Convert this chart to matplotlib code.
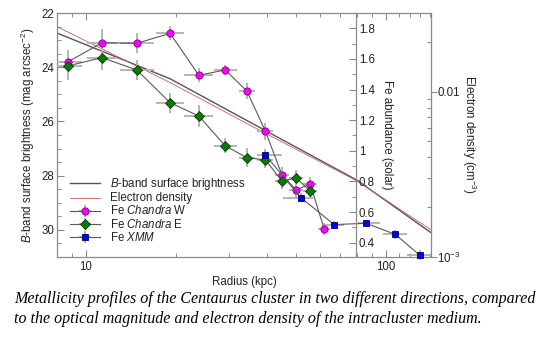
import matplotlib
matplotlib.use("Agg")
import matplotlib.pyplot as plt
from matplotlib.ticker import FixedLocator, MultipleLocator, FuncFormatter, NullFormatter, LogLocator

plt.rcParams["font.family"] = ["Liberation Sans", "DejaVu Sans"]
plt.rcParams["mathtext.fontset"] = "custom"
plt.rcParams["mathtext.rm"] = "Liberation Sans"
plt.rcParams["mathtext.it"] = "Liberation Sans:italic"

# B-band surface brightness and electron density profiles
prof_r = [8.0, 19.05, 38.0, 79.9, 141.3]
sb_mag = [22.73, 24.42, 26.23, 28.17, 30.12]
ne_cm3 = [0.0248, 0.01137, 0.00582, 0.00288, 0.00145]

# Fe Chandra W
w_r = [8.69, 11.3, 14.76, 19.05, 23.75, 29.06, 34.33, 39.6, 44.9, 50.1, 55.8, 62.1]
w_rlo = [7.80, 10.07, 12.95, 17.11, 21.25, 26.60, 32.29, 37.24, 42.55, 47.48, 52.88, 59.31]
w_rhi = [9.68, 12.68, 16.82, 21.21, 26.55, 31.74, 36.50, 42.11, 47.38, 52.87, 58.88, 65.02]
w_fe = [1.58, 1.706, 1.702, 1.767, 1.493, 1.528, 1.390, 1.127, 0.844, 0.744, 0.783, 0.491]
w_err = [0.08, 0.09, 0.065, 0.045, 0.045, 0.035, 0.05, 0.055, 0.05, 0.045, 0.045, 0.04]

# Fe Chandra E (same radial bins as W)
e_r = w_r[:11]
e_rlo = w_rlo[:11]
e_rhi = w_rhi[:11]
e_fe = [1.554, 1.608, 1.528, 1.314, 1.227, 1.033, 0.955, 0.940, 0.803, 0.822, 0.737]
e_err = [0.09, 0.08, 0.065, 0.065, 0.07, 0.05, 0.06, 0.05, 0.05, 0.05, 0.05]

# Fe XMM
x_r = [39.6, 51.9, 67.1, 85.8, 107.2, 129.1]
x_rlo = [37.07, 45.4, 62.1, 80.7, 97.7, 117.5]
x_rhi = [44.9, 57.1, 72.4, 95.5, 117.5, 141.3]
x_fe = [0.972, 0.694, 0.518, 0.526, 0.454, 0.319]
x_err = [0.04, 0.03, 0.025, 0.025, 0.03, 0.03]

TXT = "#222222"
SPINE = "#8a8a8a"
FS = 8.3

fig = plt.figure(figsize=(5.46, 3.53), dpi=100)
ax = fig.add_axes([57 / 546, 96.3 / 353, 374 / 546, 243.4 / 353])
ax_ne = ax.twinx()
ax_fe = ax.twinx()

for a in (ax, ax_ne, ax_fe):
	for s in a.spines.values():
		s.set_color(SPINE)
		s.set_linewidth(0.9)
for s in ("left", "top", "bottom"):
	ax_ne.spines[s].set_visible(False)
	ax_fe.spines[s].set_visible(False)
ax.spines["right"].set_visible(False)
ax_fe.spines["right"].set_position(("axes", 0.8))

# main axis: radius and surface brightness
ax.set_xscale("log")
ax.set_xlim(8, 141)
ax.set_ylim(31, 22)
ax.plot(prof_r, sb_mag, color="#555555", lw=1.0, label=r"$\it{B}$-band surface brightness")
ax.xaxis.set_major_locator(FixedLocator([10, 100]))
ax.xaxis.set_major_formatter(FuncFormatter(lambda v, p: "%d" % v))
ax.xaxis.set_minor_locator(FixedLocator([8, 9] + list(range(20, 100, 10)) + [110, 120, 130, 140]))
ax.xaxis.set_minor_formatter(NullFormatter())
ax.yaxis.set_major_locator(MultipleLocator(2))
ax.yaxis.set_minor_locator(MultipleLocator(0.5))
ax.tick_params(which="both", direction="in", top=True, right=False, colors=SPINE, labelcolor=TXT, labelsize=FS)
ax.tick_params(which="major", length=5, width=0.8)
ax.tick_params(which="minor", length=3, width=0.7)
ax.tick_params(axis="x", pad=3)
ax.tick_params(axis="y", pad=2)
ax.set_xlabel("Radius (kpc)", fontsize=FS, color=TXT, labelpad=2)
ax.set_ylabel(r"$\it{B}$-band surface brightness (mag arcsec$^{-2}$)", fontsize=FS, color=TXT)
ax.yaxis.set_label_coords(-0.053, 0.5)

# electron density axis
ax_ne.set_yscale("log")
ax_ne.set_ylim(1e-3, 0.0299)
ln_ne, = ax_ne.plot(prof_r, ne_cm3, color="#cc5a5a", lw=0.6, label="Electron density")
ax_ne.yaxis.set_major_locator(FixedLocator([1e-3, 1e-2]))
ax_ne.yaxis.set_major_formatter(FuncFormatter(lambda v, p: r"10$^{-3}$" if v < 5e-3 else "0.01"))
ax_ne.yaxis.set_minor_locator(LogLocator(base=10, subs=range(2, 10)))
ax_ne.yaxis.set_minor_formatter(NullFormatter())
ax_ne.tick_params(which="major", direction="out", length=4, width=0.8, colors=SPINE, labelcolor=TXT, labelsize=FS, pad=0.5)
ax_ne.tick_params(which="minor", direction="in", length=3, width=0.7, colors=SPINE)
ax_ne.set_ylabel(r"Electron density (cm$^{-3}$)", fontsize=FS, color=TXT, rotation=270)
ax_ne.yaxis.set_label_coords(1.125, 0.5)

# Fe abundance axis
ax_fe.set_ylim(0.308, 1.898)
ax_fe.yaxis.set_major_locator(FixedLocator([0.4, 0.6, 0.8, 1.0, 1.2, 1.4, 1.6, 1.8]))
ax_fe.yaxis.set_major_formatter(FuncFormatter(lambda v, p: "1" if abs(v - 1) < 1e-6 else "%.1f" % v))
ax_fe.yaxis.set_minor_locator(MultipleLocator(0.1))
ax_fe.tick_params(which="both", direction="in", colors=SPINE, labelcolor=TXT, labelsize=FS, pad=2)
ax_fe.tick_params(which="major", length=5, width=0.8)
ax_fe.tick_params(which="minor", length=3, width=0.7)
ax_fe.set_ylabel("Fe abundance (solar)", fontsize=FS, color=TXT, rotation=270)
ax_fe.yaxis.set_label_coords(0.898, 0.5)


def fe_series(r, rlo, rhi, fe, err, marker, face, edge, size, label, clip=True):
	xerr = [[c - lo for c, lo in zip(r, rlo)], [hi - c for c, hi in zip(r, rhi)]]
	return ax_fe.errorbar(r, fe, xerr=xerr, yerr=err, fmt="-", color="#5a5a5a", lw=0.8,
		ecolor="#b4b4b4", elinewidth=1.4, capsize=0, marker=marker, ms=size,
		mfc=face, mec=edge, mew=0.6, label=label, clip_on=clip)


h_w = fe_series(w_r, w_rlo, w_rhi, w_fe, w_err, "o", "#ff00ff", "#7a007a", 5.2, r"Fe $\it{Chandra}$ W")
h_e = fe_series(e_r, e_rlo, e_rhi, e_fe, e_err, "D", "#0a7a0a", "#033803", 4.8, r"Fe $\it{Chandra}$ E")
h_x = fe_series(x_r, x_rlo, x_rhi, x_fe, x_err, "s", "#0000ff", "#00005a", 5.0, r"Fe $\it{XMM}$", clip=False)

handles = [ax.get_lines()[0], ln_ne, h_w, h_e, h_x]
leg = ax_fe.legend(handles=handles, loc="upper left", bbox_to_anchor=(70 / 546, 1 - 176 / 353),
	bbox_transform=fig.transFigure, frameon=False, fontsize=FS, borderpad=0, borderaxespad=0,
	handlelength=2.6, handleheight=0.5, handletextpad=0.9, labelspacing=0.02)
for t in leg.get_texts():
	t.set_color(TXT)

cap_kw = dict(family=["Liberation Serif", "DejaVu Serif"], style="italic", fontsize=11.5, color="black", va="center")
fig.text(14 / 546, 1 - 299 / 353, "Metallicity profiles of the Centaurus cluster in two different directions, compared", **cap_kw)
fig.text(14 / 546, 1 - 319 / 353, "to the optical magnitude and electron density of the intracluster medium.", **cap_kw)

fig.savefig("out.png", dpi=100, facecolor="white")
